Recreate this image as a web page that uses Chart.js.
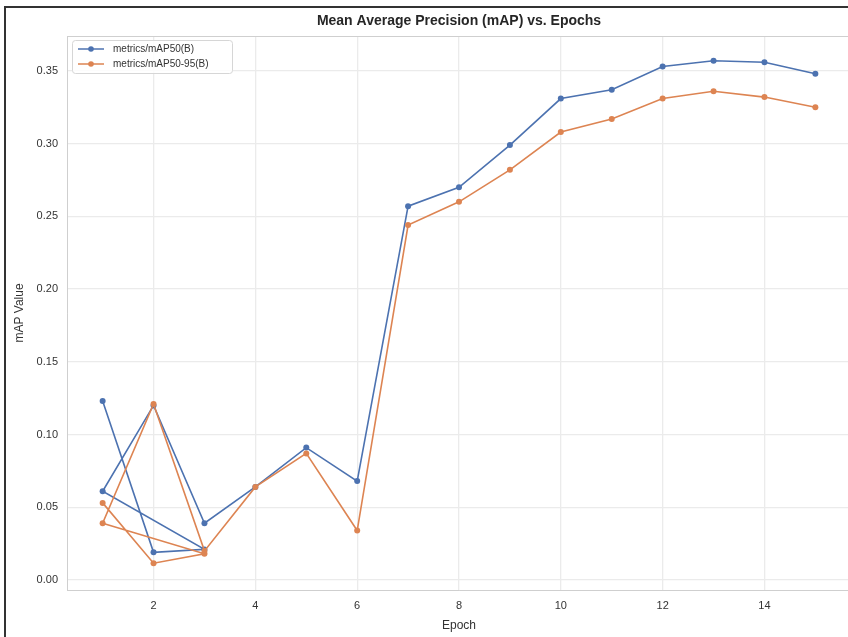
<!DOCTYPE html>
<html>
<head>
<meta charset="utf-8">
<script src="https://cdn.jsdelivr.net/npm/chart.js@4"></script>
<style>
  body { margin: 0; background: #fff; }
  #wrap { width: 848px; height: 637px; overflow: hidden; }
</style>
</head>
<body>
<div id="wrap"><canvas id="mapChart" width="856" height="637"></canvas></div>
<script>
const chartTitle = 'Mean Average Precision (mAP) vs. Epochs';
const seriesNames = ['metrics/mAP50(B)', 'metrics/mAP50-95(B)'];
// training log was appended to, so epochs 1-3 appear twice
const epochs = [1, 2, 3, 1, 2, 3, 4, 5, 6, 7, 8, 9, 10, 11, 12, 13, 14, 15];
const map50 = [0.123, 0.019, 0.021, 0.061, 0.120, 0.039, 0.064, 0.091, 0.068,
  0.257, 0.270, 0.299, 0.331, 0.337, 0.353, 0.357, 0.356, 0.348];
const map5095 = [0.053, 0.0115, 0.018, 0.039, 0.121, 0.020, 0.064, 0.087, 0.034,
  0.244, 0.260, 0.282, 0.308, 0.317, 0.331, 0.336, 0.332, 0.325];
const xTicks = [2, 4, 6, 8, 10, 12, 14];
const yTicks = [0, 0.05, 0.10, 0.15, 0.20, 0.25, 0.30, 0.35];

const blue = '#4c72b0';
const orange = '#dd8452';
const font = "'Liberation Sans', Arial, sans-serif";

const toPoints = (vals) => epochs.map((e, i) => ({ x: e, y: vals[i] }));

const pageDecor = {
  id: 'pageDecor',
  beforeDraw(chart) {
    const c = chart.ctx;
    c.save();
    c.fillStyle = '#fff';
    c.fillRect(0, 0, chart.width, chart.height);
    c.strokeStyle = '#333';
    c.lineWidth = 2;
    c.beginPath();
    c.moveTo(5, chart.height);
    c.lineTo(5, 7);
    c.lineTo(chart.width, 7);
    c.stroke();
    c.restore();
  },
  beforeDatasetsDraw(chart) {
    const a = chart.chartArea;
    const c = chart.ctx;
    c.save();
    c.strokeStyle = '#cfcfcf';
    c.lineWidth = 1;
    c.beginPath();
    c.moveTo(a.left, a.top + 0.5);
    c.lineTo(a.right, a.top + 0.5);
    c.stroke();
    c.restore();
  },
  afterDraw(chart) {
    const a = chart.chartArea;
    const c = chart.ctx;
    c.save();
    // title
    c.fillStyle = '#262626';
    c.font = 'bold 14px ' + font;
    c.textAlign = 'center';
    c.textBaseline = 'middle';
    c.fillText(chartTitle, (a.left + a.right) / 2, 21);

    // legend box, upper left inside the axes
    const bx = 72, by = 40, bw = 160, bh = 33;
    c.fillStyle = 'rgba(255,255,255,0.85)';
    c.strokeStyle = '#d6d6d6';
    c.lineWidth = 1;
    c.beginPath();
    c.roundRect(bx + 0.5, by + 0.5, bw, bh, 3);
    c.fill();
    c.stroke();
    const colors = [blue, orange];
    c.font = '10px ' + font;
    c.textAlign = 'left';
    seriesNames.forEach((name, i) => {
      const y = by + 9 + i * 15;
      c.strokeStyle = colors[i];
      c.lineWidth = 1.5;
      c.beginPath();
      c.moveTo(bx + 6, y);
      c.lineTo(bx + 32, y);
      c.stroke();
      c.fillStyle = colors[i];
      c.beginPath();
      c.arc(bx + 19, y, 2.8, 0, Math.PI * 2);
      c.fill();
      c.fillStyle = '#333';
      c.fillText(name, bx + 41, y + 0.5);
    });
    c.restore();
  }
};

new Chart(document.getElementById('mapChart'), {
  type: 'line',
  data: {
    datasets: [
      {
        label: seriesNames[0],
        data: toPoints(map50),
        borderColor: blue,
        backgroundColor: blue,
        borderWidth: 1.6,
        pointRadius: 3,
        pointBorderWidth: 0,
        tension: 0,
        order: 1
      },
      {
        label: seriesNames[1],
        data: toPoints(map5095),
        borderColor: orange,
        backgroundColor: orange,
        borderWidth: 1.6,
        pointRadius: 3,
        pointBorderWidth: 0,
        tension: 0,
        order: 0
      }
    ]
  },
  options: {
    responsive: false,
    animation: false,
    devicePixelRatio: 1,
    layout: { padding: { top: 36, right: 5, bottom: 0, left: 0 } },
    plugins: {
      legend: { display: false },
      title: { display: false },
      tooltip: { enabled: false }
    },
    scales: {
      x: {
        type: 'linear',
        min: 0.3,
        max: 15.7,
        afterFit: (s) => { s.height = 47; },
        afterBuildTicks: (s) => { s.ticks = xTicks.map(v => ({ value: v })); },
        grid: { color: '#ebebeb', lineWidth: 1.3, drawTicks: false },
        border: { color: '#cfcfcf', width: 1 },
        ticks: { color: '#333', font: { family: font, size: 11 }, padding: 9 },
        title: {
          display: true, text: 'Epoch', color: '#333',
          font: { family: font, size: 12 }, padding: { top: 0, bottom: 4 }
        }
      },
      y: {
        min: -0.0069,
        max: 0.374,
        afterFit: (s) => { s.width = 67; },
        afterBuildTicks: (s) => { s.ticks = yTicks.map(v => ({ value: v })); },
        grid: { color: '#ebebeb', lineWidth: 1.3, drawTicks: false },
        border: { color: '#cfcfcf', width: 1 },
        ticks: {
          color: '#333', font: { family: font, size: 11 }, padding: 9,
          callback: (v) => v.toFixed(2)
        },
        title: {
          display: true, text: 'mAP Value', color: '#333',
          font: { family: font, size: 12 }, padding: { top: 12, bottom: 0 }
        }
      }
    }
  },
  plugins: [pageDecor]
});
</script>
</body>
</html>
